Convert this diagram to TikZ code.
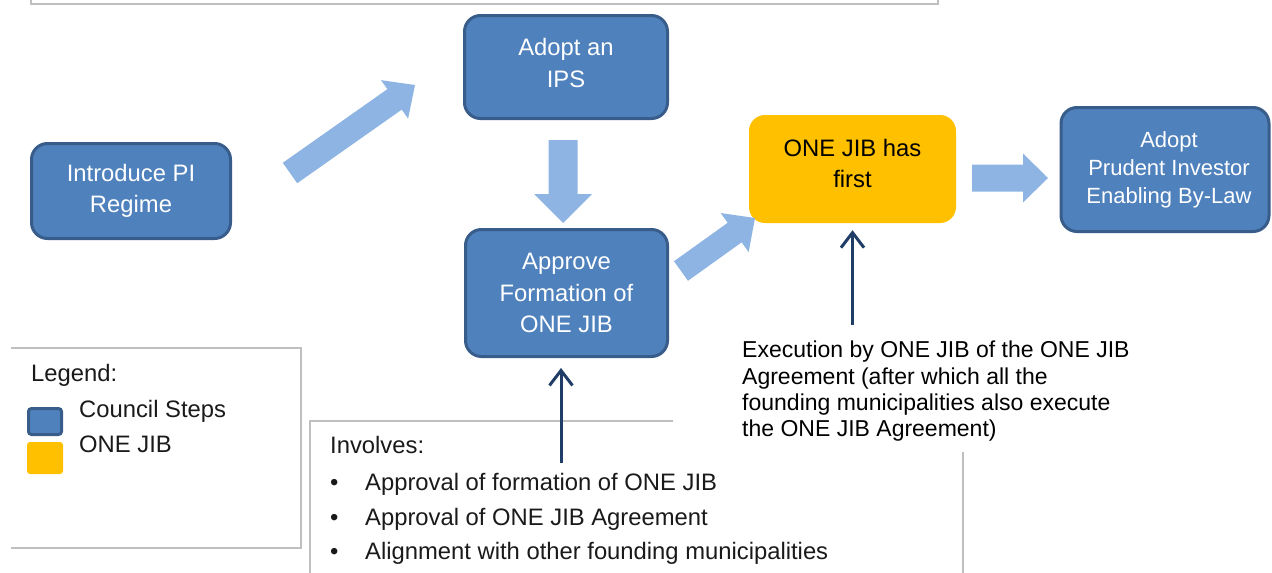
\documentclass[tikz,border=0pt]{standalone}
\usepackage{fontspec}
\setmainfont{Liberation Sans}
\usetikzlibrary{calc,arrows.meta}
\definecolor{boxblue}{HTML}{4F81BD}
\definecolor{boxedge}{HTML}{385D8A}
\definecolor{arrowblue}{HTML}{8EB4E3}
\definecolor{jibyellow}{HTML}{FFC000}
\definecolor{navy}{HTML}{1F3D66}
\definecolor{rulegray}{HTML}{BFBFBF}
\definecolor{textgray}{HTML}{1A1A1A}
% block arrow: tail, tip, shaft half-width, head half-width, head length
\newcommand\blockarrow[5]{%
  \path ($(#2)!#5!(#1)$) coordinate (neck);
  \fill[arrowblue] ($(#1)!#3!-90:(#2)$) -- ($(neck)!#3!-90:(#2)$) -- ($(neck)!#4!-90:(#2)$)
    -- (#2) -- ($(neck)!#4!90:(#2)$) -- ($(neck)!#3!90:(#2)$) -- ($(#1)!#3!90:(#2)$) -- cycle;
}
\begin{document}
\begin{tikzpicture}[x=1pt,y=1pt,
  cstep/.style={draw=boxedge, line width=3pt, fill=boxblue, rounded corners=16pt, text=white,
    align=center, font=\fontsize{23.8}{31.5}\selectfont, inner sep=0pt},
  jibstep/.style={fill=jibyellow, rounded corners=16pt, text=black,
    align=center, font=\fontsize{23.8}{31.5}\selectfont, inner sep=0pt},
  plain/.style={anchor=base west, inner sep=0pt, text=textgray, font=\fontsize{23.8}{26}\selectfont},
  thinarrow/.style={draw=navy, line width=3pt, -{Straight Barb[length=15pt,width=23pt]}},
  rule/.style={draw=rulegray, line width=1.2pt}]

\useasboundingbox (0,0) rectangle (1272,-573);
\fill[white] (0,0) rectangle (1272,-573);

% top frame remnant
\draw[rule] (31,0) -- (31,-4) -- (938,-4) -- (938,0);

% step boxes
\node[cstep, minimum width=199pt, minimum height=95pt] (intro) at (131,-191) {Introduce PI\\Regime};
\node[cstep, minimum width=203pt, minimum height=103pt, text depth=8pt] (ips) at (566,-67) {Adopt an\\IPS};
\node[cstep, minimum width=202pt, minimum height=127pt] (approve) at (566.5,-293) {Approve\\Formation of\\ONE JIB};
\node[jibstep, minimum width=207pt, minimum height=108pt, text depth=11pt] (jib) at (852.5,-169) {ONE JIB has\\first};
\node[cstep, minimum width=208pt, minimum height=124pt, font=\fontsize{22}{28}\selectfont] (bylaw) at (1165,-169.5) {\hspace*{8pt}Adopt\\\hspace*{8pt}Prudent Investor\\\hspace*{8pt}Enabling By-Law};

% block arrows
\coordinate (a1t) at (290,-173); \coordinate (a1h) at (415,-85);
\coordinate (a2t) at (563,-140); \coordinate (a2h) at (563,-223);
\coordinate (a3t) at (681,-271); \coordinate (a3h) at (755,-218);
\coordinate (a4t) at (972,-178); \coordinate (a4h) at (1048,-178);
\blockarrow{a1t}{a1h}{12.5pt}{23.5pt}{25pt}
\blockarrow{a2t}{a2h}{14.5pt}{29pt}{29pt}
\blockarrow{a3t}{a3h}{12pt}{24pt}{25pt}
\blockarrow{a4t}{a4h}{13.5pt}{24.5pt}{25pt}

% legend
\draw[rule] (11,-348) -- (301,-348) -- (301,-548) -- (11,-548);
\node[plain] (leg) at (31,-381) {Legend:};
\node[draw=boxedge, line width=3pt, fill=boxblue, rounded corners=3pt, minimum width=33pt, minimum height=26pt, inner sep=0pt] (sqb) at (45,-421.5) {};
\node[fill=jibyellow, rounded corners=3pt, minimum width=36pt, minimum height=32pt, inner sep=0pt] (sqy) at (45,-458) {};
\node[plain] (lcs) at (79,-417) {Council Steps};
\node[plain] (ljib) at (79,-452) {ONE JIB};

% involves box
\draw[rule] (673,-421) -- (310,-421) -- (310,-573);
\draw[rule] (963,-452) -- (963,-573);
\node[plain] (inv) at (330,-453) {Involves:};
\node[plain] (b1) at (330,-490) {•};
\node[plain] (b2) at (330,-525) {•};
\node[plain] (b3) at (330,-559) {•};
\node[plain] (i1) at (365,-490) {Approval of formation of ONE JIB};
\node[plain] (i2) at (365,-525) {Approval of ONE JIB Agreement};
\node[plain] (i3) at (365,-559) {Alignment with other founding municipalities};

% execution text (bottom clipped)
\begin{scope}
\clip (700,-300) rectangle (1200,-442);
\node[anchor=north west, inner sep=0pt, align=left, text=black, font=\fontsize{23}{26.3}\selectfont] (exec) at (742,-341)
  {Execution by ONE JIB of the ONE JIB\\Agreement (after which all the\\founding municipalities also execute\\the ONE JIB Agreement)};
\end{scope}

% thin arrows
\coordinate (e1) at (852.5,-325);
\coordinate (v1) at (561,-463);
\draw[thinarrow, shorten >=7pt] (e1) -- (jib.south);
\draw[thinarrow, shorten >=10pt] (v1) -- (v1 |- approve.south);
\end{tikzpicture}
\end{document}
